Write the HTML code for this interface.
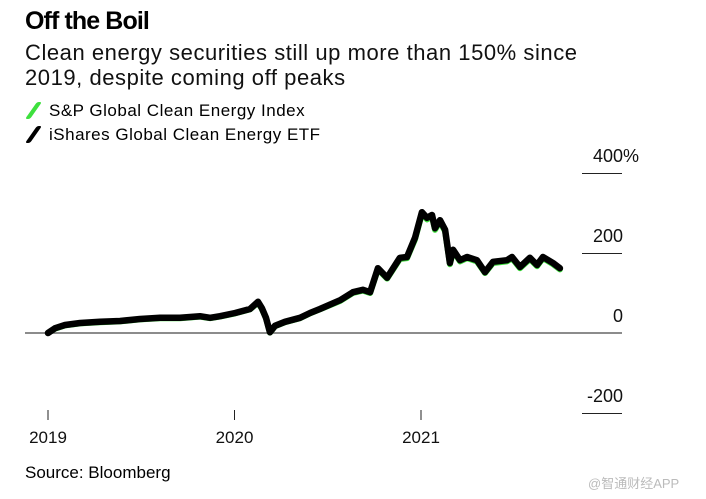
<!DOCTYPE html>
<html><head><meta charset="utf-8"><style>
body{margin:0;width:706px;height:499px;background:#fff;font-family:"Liberation Sans",Arial,sans-serif;position:relative;overflow:hidden}
.t{position:absolute;white-space:nowrap}
</style></head><body>
<div class="t" style="left:25px;top:7px;font-size:25px;font-weight:bold;letter-spacing:-0.9px">Off the Boil</div>
<div class="t" style="left:25px;top:40px;font-size:22px;line-height:25px;letter-spacing:0.55px;color:#111">Clean energy securities still up more than 150% since<br>2019, despite coming off peaks</div>
<div>
<div class="t" style="left:31px;top:101px;font-size:17px;letter-spacing:0.5px"><span style="display:inline-block;width:5px;height:17px;background:#3ee03e;transform:skewX(-35deg);vertical-align:-3px;margin-right:13px;border-radius:2px"></span>S&amp;P Global Clean Energy Index</div>
<div class="t" style="left:31px;top:125px;font-size:17px;letter-spacing:0.5px"><span style="display:inline-block;width:5px;height:17px;background:#000;transform:skewX(-35deg);vertical-align:-3px;margin-right:13px;border-radius:2px"></span>iShares Global Clean Energy ETF</div>
</div>
<svg id="c" width="706" height="499" style="position:absolute;left:0;top:0"></svg>
<div class="t" style="left:25px;top:463px;font-size:17px">Source: Bloomberg</div>
<div class="t" style="left:588px;top:473px;font-size:13px;color:#bbb;font-family:'Liberation Sans','Noto Sans CJK SC',sans-serif">@智通财经APP</div>
<script>
const years=[0,0.038,0.091,0.172,0.279,0.386,0.493,0.601,0.708,0.815,0.869,0.922,1.003,1.083,1.126,1.147,1.169,1.190,1.217,1.271,1.351,1.405,1.458,1.566,1.635,1.689,1.727,1.769,1.818,1.887,1.925,1.968,2.005,2.032,2.059,2.075,2.102,2.129,2.155,2.172,2.209,2.247,2.300,2.343,2.386,2.461,2.488,2.531,2.584,2.622,2.654,2.708,2.745];
const etfValues=[0,12,20,25,28,30,35,38,38,42,38,42,50,60,78,62,38,2,18,28,38,50,60,82,102,108,102,162,138,188,190,238,302,288,295,262,282,258,175,208,182,190,182,152,178,182,190,165,188,170,190,175,162];
const indexValues=[0,11,19,24,27,29,34,37,37,41,37,41,49,59,76,60,37,1,17,27,37,49,59,80,100,106,100,159,136,185,187,234,298,284,291,258,278,254,172,205,179,187,179,150,175,179,187,162,185,167,187,172,159];
const yTicks=[400,200,0,-200];
const yTickLabels=["400","200","0","-200"];
const xTicks=[0,1,2];
const xTickLabels=["2019","2020","2021"];
const svg=document.getElementById('c');const NS='http://www.w3.org/2000/svg';
const X=t=>48+t*186.5, Y=v=>333-v*0.4;
function el(tag,a){const e=document.createElementNS(NS,tag);for(const k in a)e.setAttribute(k,a[k]);svg.appendChild(e);return e;}
yTicks.forEach((v,i)=>{
 if(v!==0){const g=el('line',{x1:582,x2:622,y1:Y(v)+0.5,y2:Y(v)+0.5,stroke:'#222','stroke-width':1});
 
 }
 const t=el('text',{x:623,y:Y(v)-11,'text-anchor':'end','font-size':18,fill:'#111','font-family':'Liberation Sans, sans-serif'});
 t.textContent=yTickLabels[i];
 
 
 if(i===0){const p=el('text',{x:623,y:Y(v)-11,'font-size':18,fill:'#111','font-family':'Liberation Sans, sans-serif'});
 p.textContent='%';
 
 }
});
xTicks.forEach((v,i)=>{
 const l=el('line',{x1:X(v),x2:X(v),y1:410,y2:420,stroke:'#222','stroke-width':1});
 
 
 const t=el('text',{x:X(v),y:443,'text-anchor':'middle','font-size':17,fill:'#111','font-family':'Liberation Sans, sans-serif'});
 t.textContent=xTickLabels[i];
 
 
});
const z=el('line',{x1:25,x2:622,y1:Y(0),y2:Y(0),stroke:'#666','stroke-width':1.5});


const pts=a=>years.map((t,i)=>X(t).toFixed(1)+','+Y(a[i]).toFixed(1)).join(' ');
const g=el('polyline',{points:pts(indexValues),fill:'none',stroke:'#3ee03e','stroke-width':6,'stroke-linejoin':'round','stroke-linecap':'round'});


const b=el('polyline',{points:pts(etfValues),fill:'none',stroke:'#000','stroke-width':6.5,'stroke-linejoin':'round','stroke-linecap':'round'});


</script>
</body></html>
